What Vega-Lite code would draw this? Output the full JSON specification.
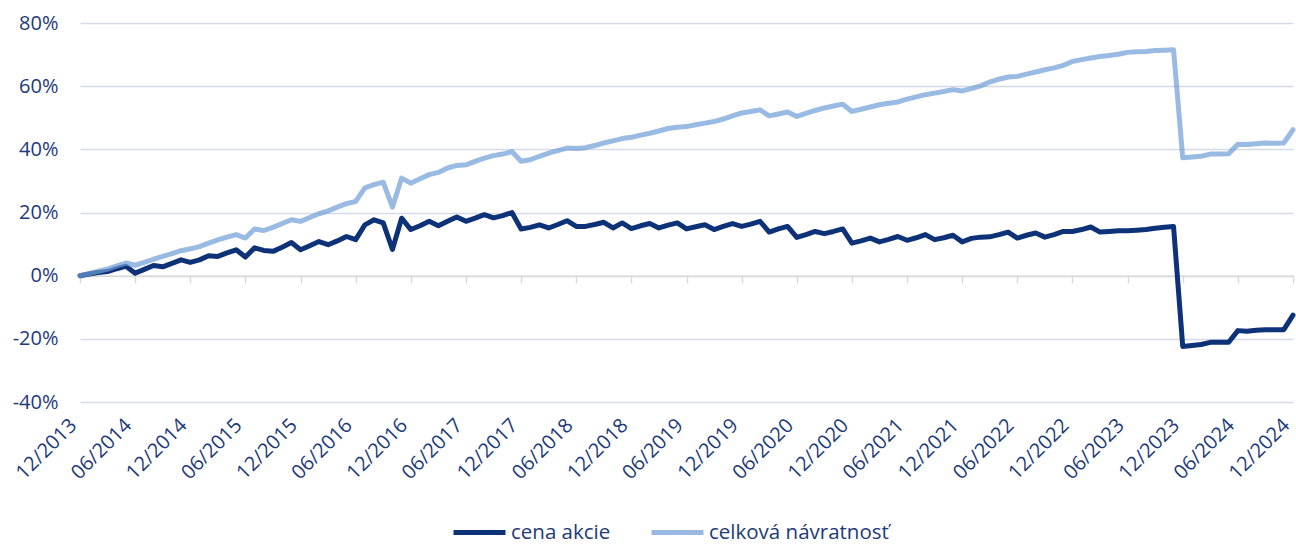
{
  "$schema": "https://vega.github.io/schema/vega-lite/v6.json",
  "width": 1213,
  "height": 379,
  "autosize": {"type": "none"},
  "padding": {"left": 80, "top": 23, "right": 3, "bottom": 142},
  "background": "white",
  "config": {"view": {"stroke": null}, "font": "Open Sans"},
  "data": {"values": [
    {"m":"12/2013","cena akcie":0,"celková návratnosť":0},
    {"m":"01/2014","cena akcie":0.5,"celková návratnosť":0.7},
    {"m":"02/2014","cena akcie":1.0,"celková návratnosť":1.4},
    {"m":"03/2014","cena akcie":1.3,"celková návratnosť":2.1},
    {"m":"04/2014","cena akcie":2.2,"celková návratnosť":3.1},
    {"m":"05/2014","cena akcie":3.0,"celková návratnosť":4.0},
    {"m":"06/2014","cena akcie":0.8,"celková návratnosť":3.3},
    {"m":"07/2014","cena akcie":2.0,"celková návratnosť":4.2},
    {"m":"08/2014","cena akcie":3.2,"celková návratnosť":5.2},
    {"m":"09/2014","cena akcie":2.8,"celková návratnosť":6.1},
    {"m":"10/2014","cena akcie":3.9,"celková návratnosť":7.0},
    {"m":"11/2014","cena akcie":5.0,"celková návratnosť":7.9},
    {"m":"12/2014","cena akcie":4.2,"celková návratnosť":8.5},
    {"m":"01/2015","cena akcie":5.0,"celková návratnosť":9.2},
    {"m":"02/2015","cena akcie":6.3,"celková návratnosť":10.3},
    {"m":"03/2015","cena akcie":6.1,"celková návratnosť":11.3},
    {"m":"04/2015","cena akcie":7.2,"celková návratnosť":12.2},
    {"m":"05/2015","cena akcie":8.2,"celková návratnosť":13.0},
    {"m":"06/2015","cena akcie":5.9,"celková návratnosť":11.9},
    {"m":"07/2015","cena akcie":8.8,"celková návratnosť":14.8},
    {"m":"08/2015","cena akcie":8.0,"celková návratnosť":14.3},
    {"m":"09/2015","cena akcie":7.7,"celková návratnosť":15.3},
    {"m":"10/2015","cena akcie":9.0,"celková návratnosť":16.5},
    {"m":"11/2015","cena akcie":10.5,"celková návratnosť":17.7},
    {"m":"12/2015","cena akcie":8.2,"celková návratnosť":17.2},
    {"m":"01/2016","cena akcie":9.5,"celková návratnosť":18.4},
    {"m":"02/2016","cena akcie":10.8,"celková návratnosť":19.6},
    {"m":"03/2016","cena akcie":9.8,"celková návratnosť":20.5},
    {"m":"04/2016","cena akcie":11.0,"celková návratnosť":21.7},
    {"m":"05/2016","cena akcie":12.4,"celková návratnosť":22.8},
    {"m":"06/2016","cena akcie":11.4,"celková návratnosť":23.5},
    {"m":"07/2016","cena akcie":16.1,"celková návratnosť":27.8},
    {"m":"08/2016","cena akcie":17.7,"celková návratnosť":28.8},
    {"m":"09/2016","cena akcie":16.7,"celková návratnosť":29.6},
    {"m":"10/2016","cena akcie":8.3,"celková návratnosť":21.7},
    {"m":"11/2016","cena akcie":18.2,"celková návratnosť":30.9},
    {"m":"12/2016","cena akcie":14.6,"celková návratnosť":29.3},
    {"m":"01/2017","cena akcie":15.8,"celková návratnosť":30.7},
    {"m":"02/2017","cena akcie":17.2,"celková návratnosť":32.0},
    {"m":"03/2017","cena akcie":15.8,"celková návratnosť":32.7},
    {"m":"04/2017","cena akcie":17.2,"celková návratnosť":34.1},
    {"m":"05/2017","cena akcie":18.6,"celková návratnosť":34.9},
    {"m":"06/2017","cena akcie":17.2,"celková návratnosť":35.1},
    {"m":"07/2017","cena akcie":18.2,"celková návratnosť":36.2},
    {"m":"08/2017","cena akcie":19.3,"celková návratnosť":37.2},
    {"m":"09/2017","cena akcie":18.3,"celková návratnosť":38.0},
    {"m":"10/2017","cena akcie":19.0,"celková návratnosť":38.5},
    {"m":"11/2017","cena akcie":20.0,"celková návratnosť":39.3},
    {"m":"12/2017","cena akcie":14.8,"celková návratnosť":36.2},
    {"m":"01/2018","cena akcie":15.3,"celková návratnosť":36.7},
    {"m":"02/2018","cena akcie":16.1,"celková návratnosť":37.8},
    {"m":"03/2018","cena akcie":15.1,"celková návratnosť":38.8},
    {"m":"04/2018","cena akcie":16.2,"celková návratnosť":39.6},
    {"m":"05/2018","cena akcie":17.4,"celková návratnosť":40.4},
    {"m":"06/2018","cena akcie":15.6,"celková návratnosť":40.3},
    {"m":"07/2018","cena akcie":15.6,"celková návratnosť":40.5},
    {"m":"08/2018","cena akcie":16.2,"celková návratnosť":41.2},
    {"m":"09/2018","cena akcie":16.9,"celková návratnosť":42.0},
    {"m":"10/2018","cena akcie":15.1,"celková návratnosť":42.7},
    {"m":"11/2018","cena akcie":16.7,"celková návratnosť":43.4},
    {"m":"12/2018","cena akcie":14.9,"celková návratnosť":43.8},
    {"m":"01/2019","cena akcie":15.8,"celková návratnosť":44.5},
    {"m":"02/2019","cena akcie":16.5,"celková návratnosť":45.1},
    {"m":"03/2019","cena akcie":15.1,"celková návratnosť":45.8},
    {"m":"04/2019","cena akcie":16.0,"celková návratnosť":46.6},
    {"m":"05/2019","cena akcie":16.7,"celková návratnosť":47.0},
    {"m":"06/2019","cena akcie":14.8,"celková návratnosť":47.2},
    {"m":"07/2019","cena akcie":15.5,"celková návratnosť":47.8},
    {"m":"08/2019","cena akcie":16.1,"celková návratnosť":48.3},
    {"m":"09/2019","cena akcie":14.6,"celková návratnosť":48.8},
    {"m":"10/2019","cena akcie":15.6,"celková návratnosť":49.6},
    {"m":"11/2019","cena akcie":16.5,"celková návratnosť":50.6},
    {"m":"12/2019","cena akcie":15.6,"celková návratnosť":51.5},
    {"m":"01/2020","cena akcie":16.3,"celková návratnosť":52.0},
    {"m":"02/2020","cena akcie":17.2,"celková návratnosť":52.5},
    {"m":"03/2020","cena akcie":13.8,"celková návratnosť":50.6},
    {"m":"04/2020","cena akcie":14.8,"celková návratnosť":51.2},
    {"m":"05/2020","cena akcie":15.6,"celková návratnosť":51.8},
    {"m":"06/2020","cena akcie":12.1,"celková návratnosť":50.4},
    {"m":"07/2020","cena akcie":13.0,"celková návratnosť":51.4},
    {"m":"08/2020","cena akcie":14.0,"celková návratnosť":52.3},
    {"m":"09/2020","cena akcie":13.3,"celková návratnosť":53.1},
    {"m":"10/2020","cena akcie":14.0,"celková návratnosť":53.7},
    {"m":"11/2020","cena akcie":14.8,"celková návratnosť":54.3},
    {"m":"12/2020","cena akcie":10.3,"celková návratnosť":52.0},
    {"m":"01/2021","cena akcie":11.0,"celková návratnosť":52.7},
    {"m":"02/2021","cena akcie":11.9,"celková návratnosť":53.4},
    {"m":"03/2021","cena akcie":10.7,"celková návratnosť":54.1},
    {"m":"04/2021","cena akcie":11.5,"celková návratnosť":54.6},
    {"m":"05/2021","cena akcie":12.4,"celková návratnosť":55.0},
    {"m":"06/2021","cena akcie":11.2,"celková návratnosť":55.9},
    {"m":"07/2021","cena akcie":12.0,"celková návratnosť":56.6},
    {"m":"08/2021","cena akcie":13.0,"celková návratnosť":57.3},
    {"m":"09/2021","cena akcie":11.4,"celková návratnosť":57.8},
    {"m":"10/2021","cena akcie":12.0,"celková návratnosť":58.3},
    {"m":"11/2021","cena akcie":12.8,"celková návratnosť":58.9},
    {"m":"12/2021","cena akcie":10.7,"celková návratnosť":58.5},
    {"m":"01/2022","cena akcie":11.8,"celková návratnosť":59.2},
    {"m":"02/2022","cena akcie":12.2,"celková návratnosť":60.1},
    {"m":"03/2022","cena akcie":12.3,"celková návratnosť":61.3},
    {"m":"04/2022","cena akcie":13.0,"celková návratnosť":62.2},
    {"m":"05/2022","cena akcie":13.8,"celková návratnosť":62.9},
    {"m":"06/2022","cena akcie":11.9,"celková návratnosť":63.1},
    {"m":"07/2022","cena akcie":12.8,"celková návratnosť":63.8},
    {"m":"08/2022","cena akcie":13.5,"celková návratnosť":64.5},
    {"m":"09/2022","cena akcie":12.2,"celková návratnosť":65.2},
    {"m":"10/2022","cena akcie":13.0,"celková návratnosť":65.8},
    {"m":"11/2022","cena akcie":14.0,"celková návratnosť":66.6},
    {"m":"12/2022","cena akcie":14.0,"celková návratnosť":67.8},
    {"m":"01/2023","cena akcie":14.6,"celková návratnosť":68.4},
    {"m":"02/2023","cena akcie":15.4,"celková návratnosť":68.9},
    {"m":"03/2023","cena akcie":13.8,"celková návratnosť":69.4},
    {"m":"04/2023","cena akcie":14.0,"celková návratnosť":69.7},
    {"m":"05/2023","cena akcie":14.2,"celková návratnosť":70.1},
    {"m":"06/2023","cena akcie":14.2,"celková návratnosť":70.7},
    {"m":"07/2023","cena akcie":14.4,"celková návratnosť":70.9},
    {"m":"08/2023","cena akcie":14.6,"celková návratnosť":71.0},
    {"m":"09/2023","cena akcie":15.0,"celková návratnosť":71.3},
    {"m":"10/2023","cena akcie":15.3,"celková návratnosť":71.4},
    {"m":"11/2023","cena akcie":15.6,"celková návratnosť":71.5},
    {"m":"12/2023","cena akcie":-22.4,"celková návratnosť":37.3},
    {"m":"01/2024","cena akcie":-22.1,"celková návratnosť":37.6},
    {"m":"02/2024","cena akcie":-21.8,"celková návratnosť":37.8},
    {"m":"03/2024","cena akcie":-21.1,"celková návratnosť":38.5},
    {"m":"04/2024","cena akcie":-21.1,"celková návratnosť":38.5},
    {"m":"05/2024","cena akcie":-21.1,"celková návratnosť":38.6},
    {"m":"06/2024","cena akcie":-17.4,"celková návratnosť":41.6},
    {"m":"07/2024","cena akcie":-17.6,"celková návratnosť":41.5},
    {"m":"08/2024","cena akcie":-17.3,"celková návratnosť":41.8},
    {"m":"09/2024","cena akcie":-17.1,"celková návratnosť":42.0},
    {"m":"10/2024","cena akcie":-17.1,"celková návratnosť":41.9},
    {"m":"11/2024","cena akcie":-17.1,"celková návratnosť":42.0},
    {"m":"12/2024","cena akcie":-12.5,"celková návratnosť":46.2}
  ]},
  "transform": [{"fold": ["cena akcie", "celková návratnosť"], "as": ["s", "v"]}],
  "encoding": {
    "y": {
      "field": "v", "type": "quantitative",
      "scale": {"domain": [-40, 80], "nice": false},
      "axis": {
        "values": [-40, -20, 0, 20, 40, 60, 80],
        "labelExpr": "datum.value + '%'",
        "title": null, "domain": false, "ticks": false,
        "labelFontSize": 20, "labelColor": "#1D3A7A", "labelPadding": 22,
        "gridColor": "#D3DAE8", "gridWidth": 1.5
      }
    }
  },
  "layer": [
    {
      "mark": {"type": "point", "opacity": 0},
      "encoding": {
        "x": {
          "field": "m", "type": "ordinal", "sort": null,
          "scale": {"type": "point", "padding": 0},
          "axis": {
            "orient": "bottom",
            "title": null, "labels": false, "grid": false, "offset": -126.3,
            "values": ["12/2013","06/2014","12/2014","06/2015","12/2015","06/2016","12/2016","06/2017","12/2017","06/2018","12/2018","06/2019","12/2019","06/2020","12/2020","06/2021","12/2021","06/2022","12/2022","06/2023","12/2023","06/2024","12/2024"],
            "domainColor": "#D9D9D9", "domainWidth": 1.5,
            "tickColor": "#D9D9D9", "tickWidth": 1.5, "tickSize": 7
          }
        }
      }
    },
    {
      "mark": {"type": "line", "strokeWidth": 5, "strokeJoin": "round", "strokeCap": "round"},
      "encoding": {
        "x": {
          "field": "m", "type": "ordinal", "sort": null,
          "scale": {"type": "point", "padding": 0},
          "axis": {
            "orient": "bottom",
            "title": null, "grid": false, "domain": false, "ticks": false,
            "values": ["12/2013","06/2014","12/2014","06/2015","12/2015","06/2016","12/2016","06/2017","12/2017","06/2018","12/2018","06/2019","12/2019","06/2020","12/2020","06/2021","12/2021","06/2022","12/2022","06/2023","12/2023","06/2024","12/2024"],
            "labelAngle": -45, "labelAlign": "right", "labelBaseline": "middle",
            "labelFontSize": 20, "labelColor": "#1D3A7A", "labelPadding": 20, "labelOffset": -7
          }
        },
        "color": {
          "field": "s", "type": "nominal",
          "scale": {"domain": ["cena akcie", "celková návratnosť"], "range": ["#0E3277", "#6E9CD6"]},
          "legend": {
            "title": null, "orient": "none", "legendX": 371, "legendY": 481, "direction": "horizontal",
            "symbolType": "stroke", "symbolSize": 2700, "symbolStrokeWidth": 5,
            "labelFontSize": 20.5, "labelColor": "#1D3A7A", "labelOffset": 3, "labelLimit": 400,
            "columnPadding": 30
          }
        },
        "opacity": {
          "field": "s", "type": "nominal",
          "scale": {"domain": ["cena akcie", "celková návratnosť"], "range": [1, 0.7]},
          "legend": null
        }
      }
    }
  ],
  "resolve": {"axis": {"x": "independent"}}
}
